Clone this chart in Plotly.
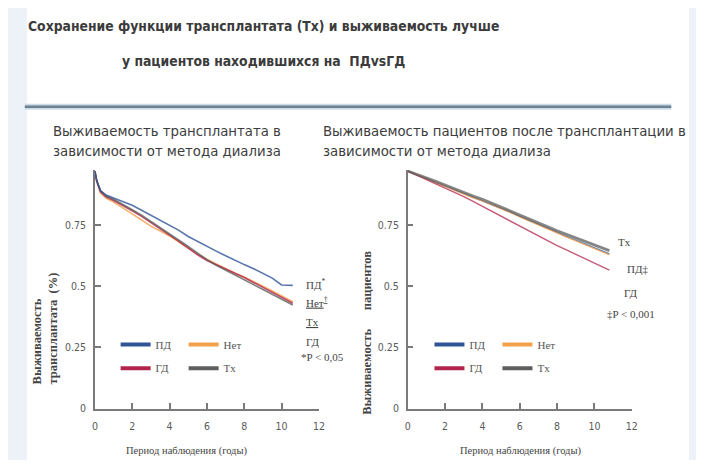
import plotly.graph_objects as go

W, H = 704, 468
OFF = 8                      # default page margin around the plot div
FW, FH = W - 2 * OFF, H - 2 * OFF

# ---------------- data ----------------
series_names = ["ПД", "Нет", "ГД", "Tx"]
series_colors = {"ПД": "#2f5597", "Нет": "#f4a04a", "ГД": "#b3244c", "Tx": "#5e5e5e"}

# Graft survival (left chart)
graft_t = [0, 0.1, 0.3, 0.6, 1, 1.5, 2, 2.5, 3, 3.5, 4, 4.5, 5, 5.5, 6, 6.5, 7, 7.5, 8, 8.5, 9, 9.5, 10, 10.6]
graft_pd = [0.97, 0.93, 0.89, 0.872, 0.86, 0.845, 0.83, 0.81, 0.79, 0.77, 0.75, 0.728, 0.703, 0.682, 0.662, 0.643, 0.624, 0.605, 0.588, 0.571, 0.553, 0.533, 0.505, 0.503]
graft_net = [0.97, 0.925, 0.88, 0.86, 0.843, 0.82, 0.795, 0.77, 0.745, 0.725, 0.705, 0.68, 0.655, 0.632, 0.61, 0.59, 0.57, 0.553, 0.537, 0.52, 0.5, 0.48, 0.46, 0.436]
graft_gd = [0.97, 0.93, 0.885, 0.865, 0.85, 0.83, 0.808, 0.785, 0.76, 0.735, 0.71, 0.683, 0.655, 0.628, 0.605, 0.588, 0.57, 0.553, 0.535, 0.515, 0.495, 0.475, 0.453, 0.43]
graft_tx = [0.97, 0.93, 0.89, 0.868, 0.855, 0.835, 0.812, 0.79, 0.765, 0.74, 0.715, 0.69, 0.662, 0.635, 0.608, 0.585, 0.565, 0.545, 0.525, 0.505, 0.485, 0.465, 0.445, 0.423]

# Patient survival (right chart)
pat_t = [0, 0.5, 1, 1.5, 2, 2.5, 3, 3.5, 4, 4.5, 5, 5.5, 6, 6.5, 7, 7.5, 8, 8.5, 9, 9.5, 10, 10.5, 10.8]
pat_pd = [0.97, 0.955, 0.94, 0.925, 0.91, 0.893, 0.877, 0.863, 0.85, 0.835, 0.818, 0.802, 0.785, 0.768, 0.752, 0.735, 0.718, 0.703, 0.688, 0.673, 0.655, 0.64, 0.632]
pat_net = [0.97, 0.955, 0.94, 0.924, 0.908, 0.891, 0.875, 0.861, 0.848, 0.833, 0.816, 0.8, 0.783, 0.766, 0.75, 0.733, 0.716, 0.7, 0.685, 0.67, 0.653, 0.637, 0.628]
pat_gd = [0.97, 0.953, 0.937, 0.92, 0.903, 0.885, 0.866, 0.846, 0.826, 0.806, 0.786, 0.765, 0.744, 0.723, 0.703, 0.683, 0.665, 0.648, 0.63, 0.612, 0.594, 0.576, 0.565]
pat_tx = [0.97, 0.957, 0.943, 0.928, 0.913, 0.897, 0.882, 0.868, 0.855, 0.84, 0.823, 0.807, 0.79, 0.773, 0.758, 0.742, 0.726, 0.711, 0.697, 0.683, 0.667, 0.652, 0.645]

x_ticks = [0, 2, 4, 6, 8, 10, 12]
y_ticks = [0, 0.25, 0.5, 0.75]
y_ticklabels = ["0", "0.25", "0.5", "0.75"]

title_lines = ["Сохранение функции трансплантата (Tx) и выживаемость лучше",
               "у пациентов находившихся на  ПДvsГД"]
sub_left = ["Выживаемость трансплантата в", "зависимости от метода диализа"]
sub_right = ["Выживаемость пациентов после трансплантации в", "зависимости от метода диализа"]
ylab_left = "Выживаемость<br>трансплантата  (%)"
ylab_right = "Выживаемость      пациентов"
xlab = "Период наблюдения (годы)"
end_left = ["ПД<sup>*</sup>", "<u>Нет<sup>†</sup></u>", "<u>Tx</u>", "ГД", "*P < 0,05"]
end_right = ["Tx", "ПД‡", "ГД", "‡P < 0,001"]

# ---------------- helpers (page pixels -> paper fraction) ----------------
def fx(px):
    return (px - OFF) / FW

def fy(py):
    return 1 - (py - OFF) / FH

fig = go.Figure()

left = {"ПД": graft_pd, "Нет": graft_net, "ГД": graft_gd, "Tx": graft_tx}
right = {"ПД": pat_pd, "Нет": pat_net, "ГД": pat_gd, "Tx": pat_tx}

for name in ["Нет", "ГД", "Tx", "ПД"]:
    fig.add_trace(go.Scatter(x=graft_t, y=left[name], mode="lines", showlegend=False,
                             line=dict(color=series_colors[name], width=1.6), opacity=0.8,
                             xaxis="x", yaxis="y", hoverinfo="skip"))
for name in ["ПД", "Нет", "ГД", "Tx"]:
    fig.add_trace(go.Scatter(x=pat_t, y=right[name], mode="lines", showlegend=False,
                             line=dict(color=series_colors[name], width=1.4 if name != "Tx" else 2.8),
                             opacity=0.75, xaxis="x2", yaxis="y2", hoverinfo="skip"))

# legend entries (two rows per chart)
rows = [("legend", ["ПД", "Нет"], "x", "y"), ("legend2", ["ГД", "Tx"], "x", "y"),
        ("legend3", ["ПД", "Нет"], "x2", "y2"), ("legend4", ["ГД", "Tx"], "x2", "y2")]
for lg, names, xa, ya in rows:
    for name in names:
        fig.add_trace(go.Scatter(x=[None], y=[None], mode="lines", name=name, legend=lg,
                                 line=dict(color=series_colors[name], width=4),
                                 xaxis=xa, yaxis=ya))

tick_font = dict(family="DejaVu Sans Condensed, Liberation Sans, sans-serif", size=10.5, color="#5a5a5a")
axis_common = dict(showgrid=False, zeroline=False, showline=True, linecolor="#7a7a7a", linewidth=1.5,
                   ticks="inside", ticklen=6, tickwidth=1.5, tickcolor="#7a7a7a", tickfont=tick_font)
fig.update_layout(
    width=FW, height=FH, margin=dict(l=0, r=0, t=0, b=0),
    paper_bgcolor="#ecf2f8", plot_bgcolor="rgba(0,0,0,0)",
    xaxis=dict(domain=[fx(93), fx(320)], range=[0, 12], tickvals=x_ticks, anchor="y",
               ticklabelstandoff=7, **axis_common),
    yaxis=dict(domain=[fy(414), fy(172)], range=[0, 0.975], tickvals=y_ticks, ticktext=y_ticklabels,
               anchor="x", ticklabelstandoff=5, **axis_common),
    xaxis2=dict(domain=[fx(410), fx(637)], range=[0, 12], tickvals=x_ticks, anchor="y2",
                ticklabelstandoff=7, **axis_common),
    yaxis2=dict(domain=[fy(414), fy(172)], range=[0, 0.975], tickvals=y_ticks, ticktext=y_ticklabels,
                anchor="x2", ticklabelstandoff=5, **axis_common),
)

leg_common = dict(orientation="h", bgcolor="rgba(0,0,0,0)", borderwidth=0,
                  font=dict(family="Liberation Serif", size=11, color="#555555"),
                  entrywidth=23, entrywidthmode="pixels", itemwidth=30,
                  xanchor="left", yanchor="middle", traceorder="normal")
fig.update_layout(
    legend=dict(x=fx(114), y=fy(349), **leg_common),
    legend2=dict(x=fx(114), y=fy(373), **leg_common),
    legend3=dict(x=fx(432), y=fy(349), **leg_common),
    legend4=dict(x=fx(432), y=fy(373), **leg_common),
)

# background panel and rule
fig.add_shape(type="rect", xref="paper", yref="paper", x0=fx(24), x1=fx(695), y0=fy(470), y1=fy(3),
              fillcolor="white", line=dict(width=0), layer="below")
fig.add_shape(type="line", xref="paper", yref="paper", x0=fx(22), x1=fx(677), y0=fy(108), y1=fy(108),
              line=dict(color="#cddbe7", width=6), layer="below")
fig.add_shape(type="line", xref="paper", yref="paper", x0=fx(22), x1=fx(677), y0=fy(108), y1=fy(108),
              line=dict(color="#6a8194", width=2.5), layer="below")

def ann(text, px, py, size, family, color="#3a3a3a", xanchor="center", yanchor="middle", angle=0, align="center"):
    fig.add_annotation(text=text, x=fx(px), y=fy(py), xref="paper", yref="paper", showarrow=False,
                       xanchor=xanchor, yanchor=yanchor, textangle=angle, align=align,
                       font=dict(family=family, size=size, color=color))

# titles
title_font = "DejaVu Sans Condensed, Roboto, sans-serif"
ann("<b>" + title_lines[0] + "</b>", 264, 26, 13.8, title_font, "#3b3b3b")
ann("<b>" + title_lines[1] + "</b>", 264, 62, 13.8, title_font, "#3b3b3b")

# subtitles
sub_font = "DejaVu Sans"
ann(sub_left[0], 49, 133, 13.3, sub_font, "#3c3c3c", xanchor="left")
ann(sub_left[1], 49, 153, 13.3, sub_font, "#3c3c3c", xanchor="left")
ann(sub_right[0], 322, 133, 13.3, sub_font, "#3c3c3c", xanchor="left")
ann(sub_right[1], 322, 153, 13.3, sub_font, "#3c3c3c", xanchor="left")

# axis titles
ann("<b>" + ylab_left + "</b>", 42, 392, 12.5, "Liberation Serif", "#444444", yanchor="bottom", angle=-90, align="left")
ann("<b>" + ylab_right + "</b>", 368, 422, 12.5, "Liberation Serif", "#444444", yanchor="bottom", angle=-90, align="left")
ann(xlab, 186, 457, 10.5, "Liberation Serif", "#444444")
ann(xlab, 525, 457, 10.5, "Liberation Serif", "#444444")

# end labels
for txt, py in zip(end_left, [288, 306, 326, 346, 362]):
    ann(txt, 305 if not txt.startswith("*") else 300, py, 11, "Liberation Serif", "#444444", xanchor="left")
for txt, px, py in zip(end_right, [621, 630, 627, 610], [245, 273, 297, 318]):
    ann(txt, px, py, 11, "Liberation Serif", "#444444", xanchor="left")

fig.write_html("out.html")
